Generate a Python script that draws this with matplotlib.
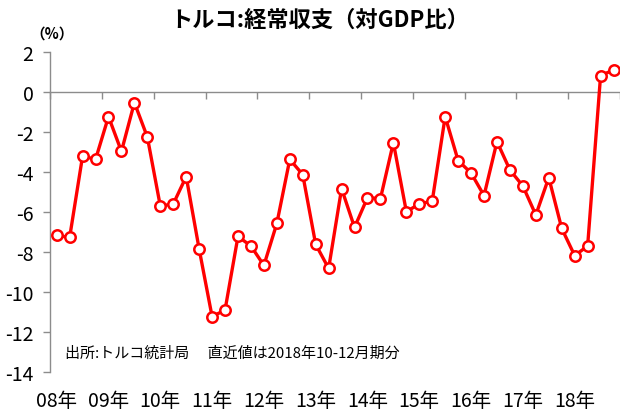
import matplotlib
matplotlib.use("Agg")
import matplotlib.pyplot as plt
import numpy as np

plt.rcParams['font.family'] = ['Noto Sans CJK JP', 'DejaVu Sans']

# Quarterly current account balance (% of GDP), 2008Q1 - 2018Q4
values = [
    -7.17, -7.27, -3.2, -3.37,
    -1.23, -2.97, -0.53, -2.25,
    -5.7, -5.6, -4.23, -7.85,
    -11.23, -10.9, -7.22, -7.7,
    -8.67, -6.57, -3.37, -4.13,
    -7.62, -8.82, -4.83, -6.77,
    -5.28, -5.33, -2.53, -5.98,
    -5.6, -5.45, -1.23, -3.43,
    -4.05, -5.18, -2.48, -3.9,
    -4.7, -6.15, -4.28, -6.82,
    -8.18, -7.7, 0.82, 1.1,
]
year_labels = ['08年', '09年', '10年', '11年', '12年', '13年',
               '14年', '15年', '16年', '17年', '18年']
yticks = [2, 0, -2, -4, -6, -8, -10, -12, -14]

title = 'トルコ:経常収支（対GDP比）'
unit = '（%）'
note = '出所:トルコ統計局　 直近値は2018年10-12月期分'

gray = '#8c8c8c'
pos = [0.081, 0.099, 0.919, 0.773]

fig = plt.figure(figsize=(6.2, 4.14), dpi=100)

# helper axes: x axis line crossing at 0 with tick marks at year boundaries
ax0 = fig.add_axes(pos)
ax0.patch.set_visible(False)
ax0.set_xlim(-0.5, len(values) - 0.5)
ax0.set_ylim(-14, 2)
for s in ['top', 'right', 'left']:
    ax0.spines[s].set_visible(False)
ax0.spines['bottom'].set_position(('data', 0))
ax0.spines['bottom'].set_color(gray)
ax0.spines['bottom'].set_linewidth(1)
ax0.set_xticks(np.arange(-0.5, len(values), 4))
ax0.set_xticklabels([])
ax0.set_yticks([])
ax0.tick_params(axis='x', direction='out', length=5, width=1, color=gray)

ax = fig.add_axes(pos)
ax.patch.set_visible(False)
x = np.arange(len(values))
ax.plot(x, values, color='#ff0000', lw=2.4, marker='o', ms=7.5,
        mfc='white', mec='#ff0000', mew=1.8, zorder=3, clip_on=False)

ax.set_xlim(-0.5, len(values) - 0.5)
ax.set_ylim(-14, 2)
ax.set_yticks(yticks)
ax.set_yticklabels([str(v) for v in yticks])
ax.tick_params(axis='y', direction='out', length=5, width=1, color=gray,
               labelsize=14, pad=7)

for s in ['top', 'right', 'bottom']:
    ax.spines[s].set_visible(False)
ax.spines['left'].set_color(gray)
ax.spines['left'].set_linewidth(1)

# year labels at Q1 positions, bottom of plot
ax.set_xticks(np.arange(0, len(values), 4))
ax.set_xticklabels(year_labels)
ax.tick_params(axis='x', length=0, labelsize=14, pad=13)

fig.text(0.515, 0.95, title, ha='center', va='center', fontsize=16,
         fontweight='bold')
fig.text(0.084, 0.92, unit, ha='center', va='center', fontsize=10.5,
         fontweight='bold')
ax.text(0.026, 0.06, note, transform=ax.transAxes, ha='left', va='center',
        fontsize=10.8)

fig.savefig('out.png', dpi=100)
